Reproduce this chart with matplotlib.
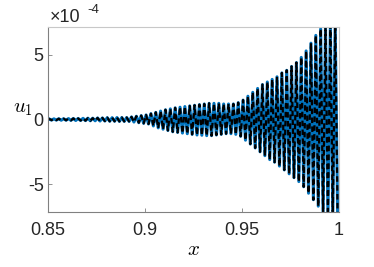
import numpy as np
import matplotlib
matplotlib.use('Agg')
import matplotlib.pyplot as plt

# one oscillation cycle every 0.0025 in x, 60 cycles over [0.85, 1]
x_start = 0.85
period = 0.0025
# crest and trough of each cycle, units of 1e-4
crest = [0.05, 0.05, 0.06, 0.06, 0.07, 0.08, 0.08, 0.09,
         0.10, 0.10, 0.12, 0.12, 0.14, 0.14, 0.15, 0.15,
         0.15, 0.20, 0.25, 0.30,
         0.35, 0.45, 0.55, 0.65, 0.75, 0.82, 0.90, 0.95,
         1.00, 1.05, 1.10, 1.15, 1.20, 1.25, 1.25, 1.25,
         1.20, 1.20, 1.20, 1.30, 1.50, 1.80, 2.10, 2.40,
         2.70, 2.90, 3.10, 3.30, 3.60, 3.80, 4.10, 4.40,
         4.80, 5.30, 5.90, 6.50, 7.00, 7.20, 7.30, 7.30]
trough = [-0.05, -0.05, -0.06, -0.06, -0.07, -0.08, -0.08, -0.09,
          -0.10, -0.10, -0.12, -0.12, -0.14, -0.14, -0.15, -0.15,
          -0.15, -0.20, -0.25, -0.30,
          -0.35, -0.50, -0.65, -0.75, -0.85, -0.95, -1.00, -1.05,
          -1.10, -1.15, -1.20, -1.22, -1.25, -1.25, -1.20, -1.15,
          -1.10, -1.10, -1.15, -1.30, -1.60, -1.90, -2.20, -2.50,
          -2.80, -3.10, -3.30, -3.60, -3.90, -4.20, -4.50, -4.80,
          -5.20, -5.70, -6.20, -6.70, -7.20, -7.40, -7.40, -7.40]

xticks = [0.85, 0.9, 0.95, 1.0]
xticklabels = ['0.85', '0.9', '0.95', '1']
yticks = [-5e-4, 0, 5e-4]
yticklabels = ['-5', '0', '5']

plt.rcParams['font.family'] = ['Liberation Sans', 'DejaVu Sans']
plt.rcParams['mathtext.fontset'] = 'cm'

n = len(crest)
k = np.arange(n)
xs = np.empty(2 * n + 1)
us = np.empty(2 * n + 1)
xs[0] = x_start
us[0] = 0.0
xs[1::2] = x_start + period * (k + 0.25)
xs[2::2] = x_start + period * (k + 0.75)
us[1::2] = np.array(crest) * 1e-4
us[2::2] = np.array(trough) * 1e-4

fig = plt.figure(figsize=(3.74, 2.67), dpi=100)
ax = fig.add_axes([0.128, 0.206, 0.778, 0.693])

ax.plot(xs, us, color='#0072BD', lw=2.2)
ax.plot(xs, us, color='black', lw=1.6, ls=(0, (2.5, 1.5)))

ax.set_xlim(0.85, 1.0)
ax.set_ylim(-7.15e-4, 7.15e-4)
ax.set_xticks(xticks)
ax.set_xticklabels(xticklabels)
ax.set_yticks(yticks)
ax.set_yticklabels(yticklabels)
ax.tick_params(direction='in', length=3, width=0.6, colors='#808080',
               labelcolor='#262626', labelsize=13)
ax.tick_params(axis='x', pad=7)
ax.tick_params(axis='y', pad=3)
for side in ['left', 'bottom']:
    ax.spines[side].set_color('#808080')
    ax.spines[side].set_linewidth(0.8)
for side in ['top', 'right']:
    ax.spines[side].set_color('#c8c8c8')
    ax.spines[side].set_linewidth(0.8)

ax.set_xlabel('$x$', fontsize=15, labelpad=1)
ax.text(-0.05, 0.56, '$u_1$', transform=ax.transAxes, fontsize=15,
        ha='right', va='center')

ax.text(0.005, 1.027, '\u00d710', transform=ax.transAxes, fontsize=13,
        color='#262626', ha='left', va='baseline')
ax.text(0.135, 1.075, '-4', transform=ax.transAxes, fontsize=9.5,
        color='#262626', ha='left', va='baseline')

fig.savefig('out.png', dpi=100)
